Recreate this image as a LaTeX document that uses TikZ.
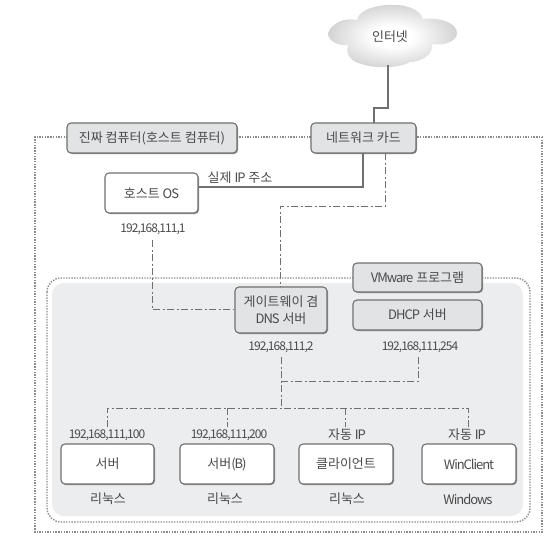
\documentclass[tikz,border=0pt]{standalone}
\usepackage{fontspec}
\setmainfont{Noto Sans CJK KR}
\newfontfamily\latf[LetterSpace=-8]{Noto Sans CJK KR}
\newcommand{\lat}[1]{{\latf #1}}
\usetikzlibrary{shadows,calc}
\definecolor{ink}{HTML}{4A4A4A}
\definecolor{boxgray}{HTML}{E2E3E5}
\definecolor{areagray}{HTML}{ECEDEF}
\definecolor{wire}{HTML}{707070}
\definecolor{dots}{HTML}{8C8C8C}
\pgfdeclareradialshading{cloudsh}{\pgfpoint{0bp}{0bp}}{color(0bp)=(white); color(8bp)=(white); color(22bp)=(black!14); color(36bp)=(black!30); color(50bp)=(black!36)}
\tikzset{
  x=1pt,y=-1pt,
  txt/.style={inner sep=0pt,font=\fontsize{13}{15}\selectfont,text=ink,align=center},
  ipt/.style={inner sep=0pt,font=\fontsize{12}{14}\selectfont\latf,text=ink,align=center},
  sbox/.style={draw=wire,line width=1.1pt,rounded corners=4pt,inner sep=0pt,
     drop shadow={shadow xshift=1pt,shadow yshift=-1pt,fill=black!55,opacity=.8},
     font=\fontsize{13}{17}\selectfont,text=ink,align=center},
  graybox/.style={sbox,fill=boxgray},
  whitebox/.style={sbox,fill=white},
  solidline/.style={draw=wire,line width=1.2pt},
  dashline/.style={draw=wire,line width=1pt,dash pattern=on 7pt off 2.5pt on 2pt off 2.5pt},
  dotline/.style={draw=dots,line width=1.4pt,dash pattern=on 1.4pt off 1.3pt},
}
\newcommand{\boxat}[7]{\node[#2,minimum width=#5pt-#3pt,minimum height=#6pt-#4pt] (#1) at ({(#3+#5)/2},{(#4+#6)/2}) {#7};}
\begin{document}
\begin{tikzpicture}
\useasboundingbox (0,0) rectangle (553,544);
\fill[white] (0,0) rectangle (553,544);
% outer dotted host frame
\coordinate (ol) at (35,137);
\coordinate (or) at (542,137);
\coordinate (bl) at (35,532);
\coordinate (br) at (542,532);
\draw[dotline] (or) -- (br) -- (bl) -- (ol) -- (or);
% inner vmware region
\draw[dotline,rounded corners=14pt] (47,278) rectangle (530,522);
\fill[areagray,rounded corners=12pt] (52,283) rectangle (523,516);
% cloud
\path[shading=cloudsh]
  (328,33) .. controls (332,23) and (345,17) .. (357,20)
  .. controls (358,10) and (378,4) .. (395,5)
  .. controls (408,5) and (420,10) .. (423,19)
  .. controls (437,17) and (457,22) .. (457,33)
  .. controls (457,41) and (445,46) .. (432,44)
  .. controls (434,55) and (420,62) .. (410,62)
  .. controls (400,68) and (375,69) .. (362,64)
  .. controls (352,62) and (345,55) .. (348,45)
  .. controls (340,46) and (328,42) .. (328,33) -- cycle;
\node[txt] (inet) at (390,37) {인터넷};
% boxes
\boxat{hostpc}{graybox}{67}{123}{237}{153}{진짜 컴퓨터(호스트 컴퓨터)}
\boxat{nic}{graybox}{311}{123}{416}{153}{네트워크 카드}
\boxat{hostos}{whitebox}{105}{173}{198}{213}{호스트 \lat{OS}}
\boxat{gw}{graybox}{235}{287}{327}{333}{게이트웨이 겸\\\lat{DNS} 서버}
\boxat{vm}{graybox}{353}{263}{482}{292}{\lat{VMware} 프로그램}
\boxat{dhcp}{graybox}{353}{300}{482}{330}{\lat{DHCP} 서버}
\boxat{srv}{whitebox}{61}{444}{154}{484}{서버}
\boxat{srvb}{whitebox}{180}{444}{274}{484}{서버\lat{(B)}}
\boxat{cli}{whitebox}{299}{444}{393}{484}{클라이언트}
\boxat{win}{whitebox}{422}{444}{516}{484}{\lat{WinClient}}
% text labels
\node[txt] (realip) at (240,178) {실제 \lat{IP} 주소};
\node[ipt] (iphost) at (153,229) {192,168,111,1};
\node[ipt] (ipgw) at (281,347) {192,168,111,2};
\node[ipt] (ipdhcp) at (420,347) {192,168,111,254};
\node[ipt] (ipsrv) at (107,435) {192,168,111,100};
\node[ipt] (ipsrvb) at (229,435) {192,168,111,200};
\node[txt] (ipcli) at (347,435) {자동 \lat{IP}};
\node[txt] (ipwin) at (467,435) {자동 \lat{IP}};
\node[txt] (ossrv) at (108,499) {리눅스};
\node[txt] (ossrvb) at (225,499) {리눅스};
\node[txt] (oscli) at (347,499) {리눅스};
\node[txt] (oswin) at (468,499) {\lat{Windows}};
% connectors
\draw[solidline] (388,65) |- (374,108) -- (374,123);
\draw[solidline] (hostos.east |- 0,187) -| (363,153);
\draw[dashline] (385,153) |- (280,206) -- (280,287);
\draw[dashline] (152,240) |- (gw.west |- 0,309);
\draw[dashline] (281,357) -- (281,408);
\draw[dashline] (281,381) -| (418,357);
\draw[dashline] (107,427) |- (468,408) -- (468,427);
\draw[dashline] (227,408) -- (227,427);
\draw[dashline] (345,408) -- (345,427);
\end{tikzpicture}
\end{document}
